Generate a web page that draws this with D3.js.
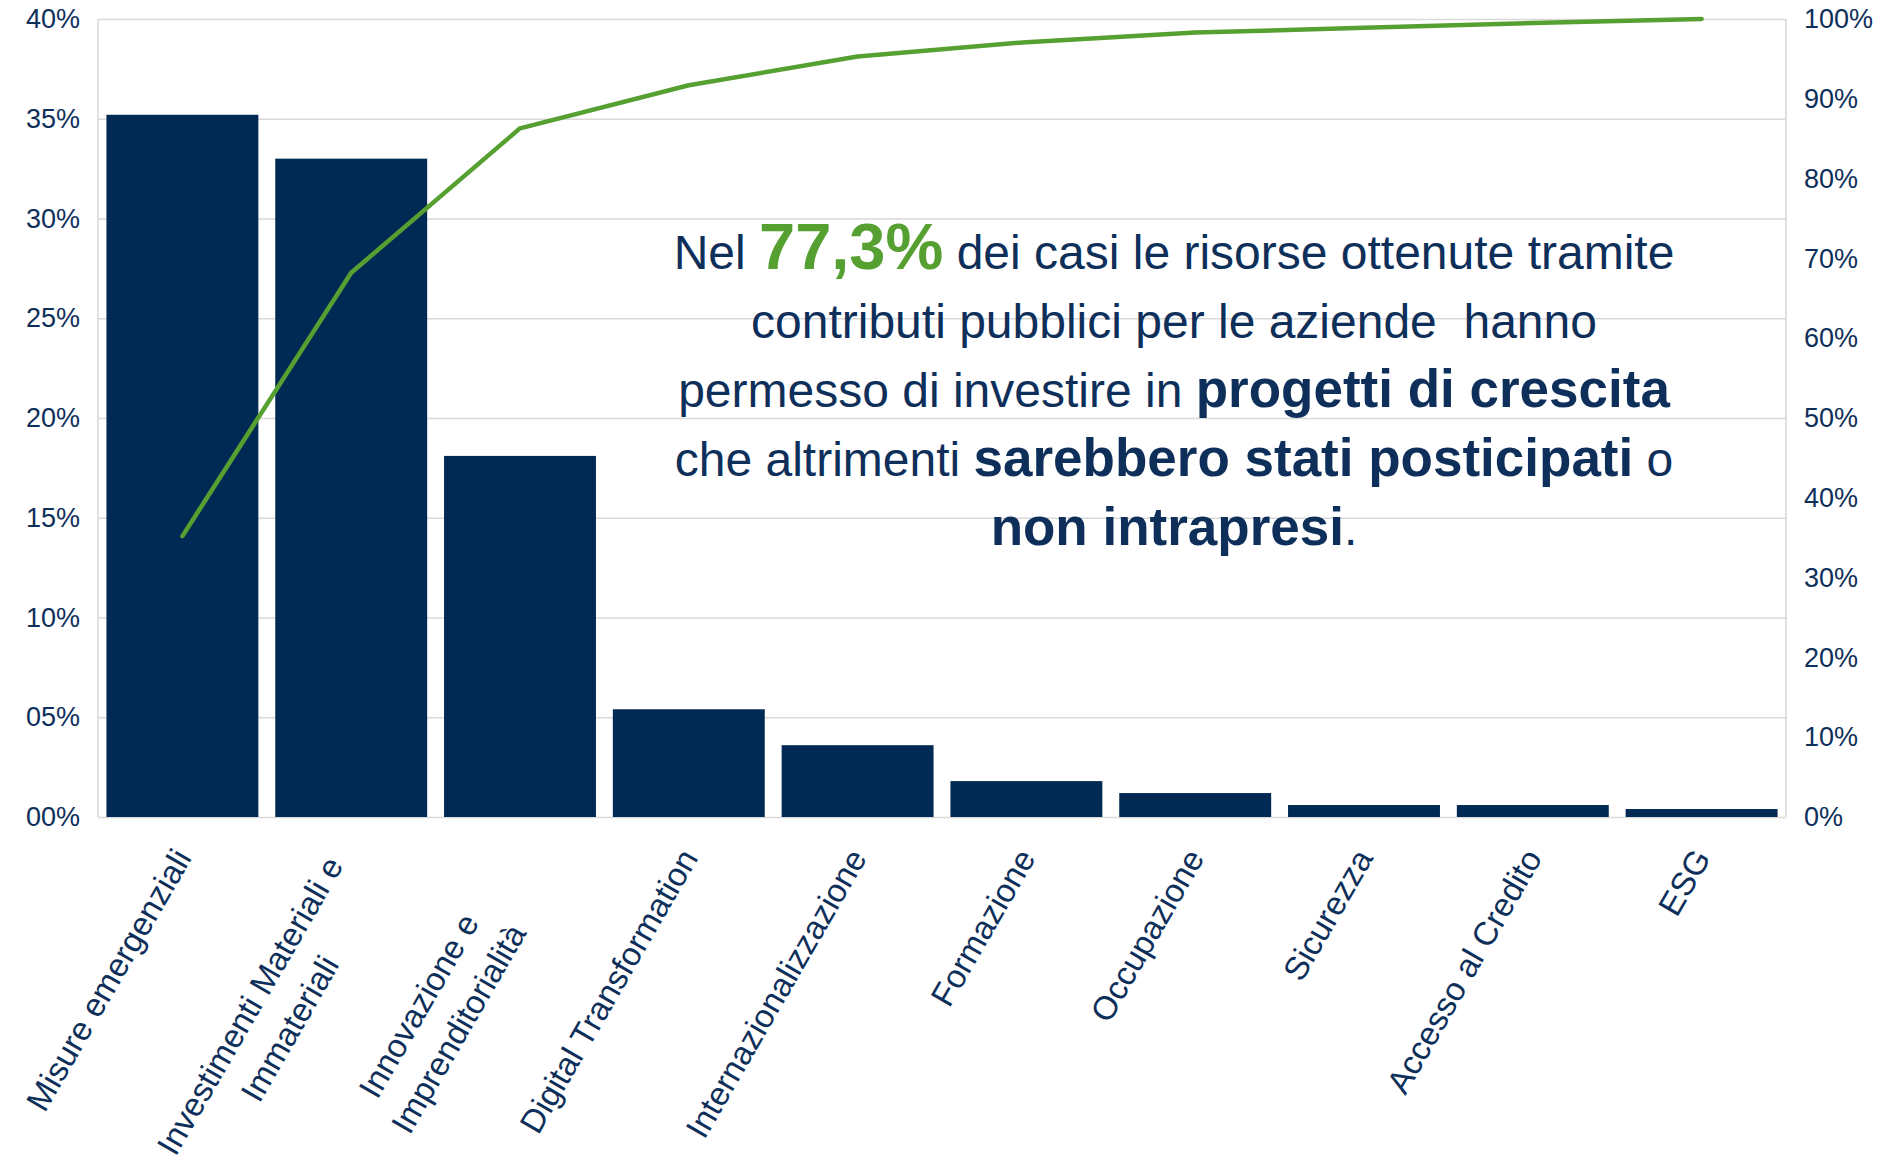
<!DOCTYPE html>
<html>
<head>
<meta charset="utf-8">
<script src="https://cdn.jsdelivr.net/npm/d3@7"></script>
<style>
  body { margin: 0; background: #ffffff; }
  svg { display: block; font-family: "Liberation Sans", Arial, sans-serif; }
</style>
</head>
<body>
<svg id="chart" width="1897" height="1174"></svg>
<script>
// categories (multi-line labels split on "|")
const categories = [
  'Misure emergenziali',
  'Investimenti Materiali e|Immateriali',
  'Innovazione e|Imprenditorialità',
  'Digital Transformation',
  'Internazionalizzazione',
  'Formazione',
  'Occupazione',
  'Sicurezza',
  'Accesso al Credito',
  'ESG'
]
// share of each category (%), left axis
const barValues = [35.2, 33.0, 18.1, 5.4, 3.6, 1.8, 1.2, 0.6, 0.6, 0.4]
// cumulative share (%), right axis
const cumulativeValues = [35.2, 68.2, 86.3, 91.7, 95.3, 97.1, 98.3, 98.9, 99.5, 100]
const leftTicks = [0, 5, 10, 15, 20, 25, 30, 35, 40]
const rightTicks = [0, 10, 20, 30, 40, 50, 60, 70, 80, 90, 100]

const navy = '#002a54'
const textColor = '#0e2f5a'
const green = '#56a032'
const grid = '#d9d9d9'

const plotL = 98, plotR = 1786, plotT = 19, plotB = 817

const svg = d3.select('#chart')

const x = d3.scaleBand().domain(categories).range([plotL, plotR])
  .paddingInner(0.1).paddingOuter(0.05)
const yL = d3.scaleLinear().domain([0, 40]).range([plotB, plotT])
const yR = d3.scaleLinear().domain([0, 100]).range([plotB, plotT])

// gridlines
svg.append('g')
  .attr('transform', `translate(${plotL},0)`)
  .call(d3.axisLeft(yL).tickValues(leftTicks).tickSize(-(plotR - plotL)).tickFormat(''))
  .call(g => g.select('.domain').remove())
  .call(g => g.selectAll('line').attr('stroke', grid).attr('stroke-width', 1.6))

// frame: left and right lines
svg.append('line').attr('x1', plotL).attr('x2', plotL).attr('y1', plotT).attr('y2', plotB)
  .attr('stroke', grid).attr('stroke-width', 1.6)
svg.append('line').attr('x1', plotR).attr('x2', plotR).attr('y1', plotT).attr('y2', plotB)
  .attr('stroke', grid).attr('stroke-width', 1.6)

// bars
svg.append('g').selectAll('rect')
  .data(barValues)
  .enter()
  .append('rect')
  .attr('x', (d, i) => x(categories[i]))
  .attr('y', d => yL(d))
  .attr('width', x.bandwidth())
  .attr('height', d => yL(0) - yL(d))
  .attr('fill', navy)

// left axis labels
svg.append('g')
  .attr('transform', `translate(${plotL},0)`)
  .call(d3.axisLeft(yL).tickValues(leftTicks).tickSize(0).tickPadding(18)
    .tickFormat(d => d3.format('02d')(d) + '%'))
  .call(g => g.select('.domain').remove())
  .call(g => g.selectAll('text').attr('fill', textColor)
    .style('font-size', '27px').style('font-family', '"Liberation Sans", Arial, sans-serif'))

// right axis labels
svg.append('g')
  .attr('transform', `translate(${plotR},0)`)
  .call(d3.axisRight(yR).tickValues(rightTicks).tickSize(0).tickPadding(18)
    .tickFormat(d => d + '%'))
  .call(g => g.select('.domain').remove())
  .call(g => g.selectAll('text').attr('fill', textColor)
    .style('font-size', '27px').style('font-family', '"Liberation Sans", Arial, sans-serif'))

// cumulative line
const line = d3.line()
  .x((d, i) => x(categories[i]) + x.bandwidth() / 2)
  .y(d => yR(d))
svg.append('path')
  .datum(cumulativeValues)
  .attr('d', line)
  .attr('fill', 'none')
  .attr('stroke', green)
  .attr('stroke-width', 4.5)
  .attr('stroke-linecap', 'round')
  .attr('stroke-linejoin', 'round')

// rotated category labels; wrapped labels share one box width, lines centred in it
const labelSize = 33, lineH = 46, angle = -60
const labels = svg.append('g')
const texts = categories.map(c => {
  const lines = c.split('|')
  const g = labels.append('g')
    .attr('transform', `translate(${x(c) + x.bandwidth() / 2},852) rotate(${angle})`)
  const t = g.append('text')
    .attr('fill', textColor)
    .style('font-size', labelSize + 'px')
    .attr('text-anchor', 'middle')
  // multi-line blocks sit a bit lower than a centred block would
  const shift = lines.length > 1 ? 12 : 0
  lines.forEach((l, i) => {
    t.append('tspan').text(l)
      .attr('y', shift - lines.length * lineH / 2 + (i + 0.5) * lineH + 0.35 * labelSize)
  })
  const w = d3.max(t.selectAll('tspan').nodes(), n => n.getComputedTextLength())
  return { t, w, multi: lines.length > 1 }
})
const boxW = d3.max(texts.filter(d => d.multi), d => d.w) + 30
texts.forEach(d => {
  const w = d.multi ? boxW : d.w
  d.t.selectAll('tspan').attr('x', -w / 2)
})

// annotation
const note = [
  [['Nel ', 'n'], ['77,3%', 'g'], [' dei casi le risorse ottenute tramite', 'n']],
  [['contributi pubblici per le aziende \u00a0hanno', 'n']],
  [['permesso di investire in ', 'n'], ['progetti di crescita', 'b']],
  [['che altrimenti ', 'n'], ['sarebbero stati posticipati', 'b'], [' o', 'n']],
  [['non intrapresi', 'b'], ['.', 'n']]
]
const noteX = 1174, noteY = 269, noteStep = 69
const noteG = svg.append('g')
note.forEach((parts, i) => {
  const t = noteG.append('text')
    .attr('x', noteX)
    .attr('y', noteY + i * noteStep)
    .attr('text-anchor', 'middle')
    .attr('fill', textColor)
    .style('font-size', '48px')
  parts.forEach(([s, k]) => {
    const sp = t.append('tspan').text(s)
    if (k === 'b') sp.style('font-weight', 'bold').style('font-size', '53px')
    if (k === 'g') sp.style('font-weight', 'bold').style('font-size', '65px').attr('fill', green)
  })
})
</script>
</body>
</html>
